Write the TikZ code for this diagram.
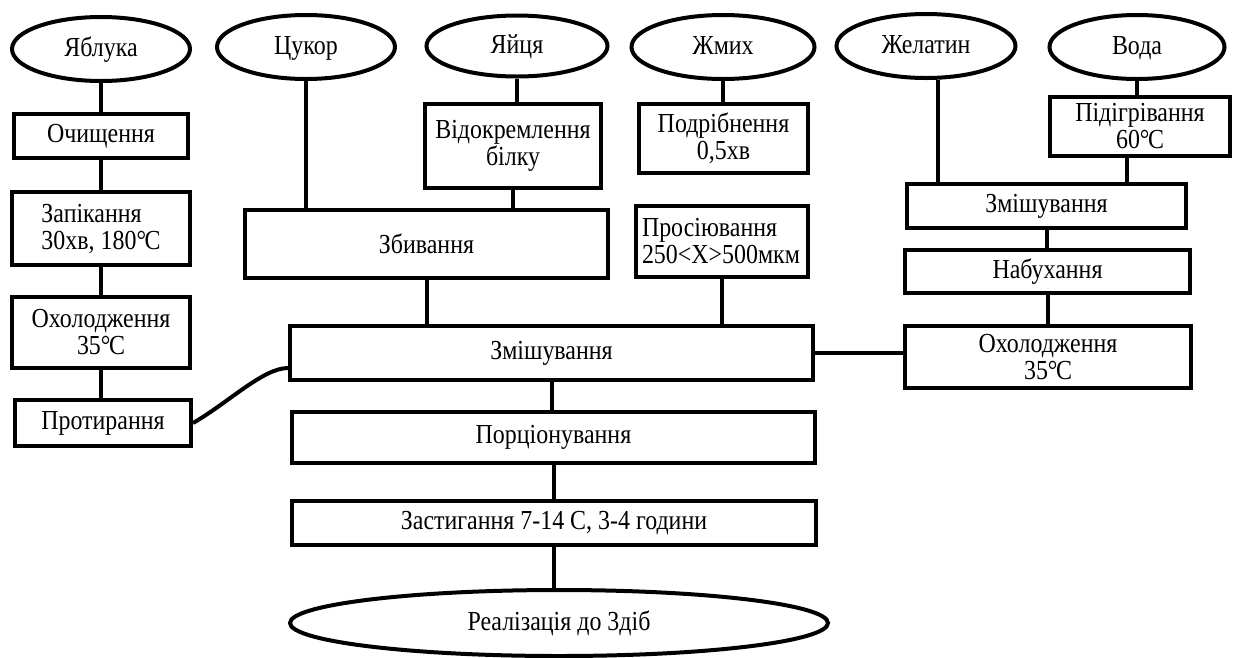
\documentclass[tikz,border=0pt]{standalone}
\usepackage{fontspec}
\setmainfont{Liberation Serif}[FakeStretch=0.87]
\usetikzlibrary{shapes.geometric}
\newcommand{\degC}{°\kern-1.5pt C}

\tikzset{
	ingr/.style={draw, ellipse, line width=4pt, inner sep=0pt, minimum width=178pt, minimum height=64pt, text height=18pt, text depth=4pt},
	proc/.style={draw, rectangle, line width=4pt, inner sep=0pt, align=center},
	link/.style={line width=4pt},
}

\begin{document}
\begin{tikzpicture}[x=1pt, y=-1pt, font=\fontsize{27.5}{27}\selectfont]
				\useasboundingbox (0,0) rectangle (1234,657);
				% ingredients
				\node[ingr] (yabluka) at (101,49){Яблука};
				\node[ingr] (tsukor) at (306,47){Цукор};
				\node[ingr, minimum width=181pt, minimum height=61pt] (yaitsia) at (517,46){Яйця};
				\node[ingr, minimum width=183pt] (zhmykh) at (723,47){Жмих};
				\node[ingr, minimum width=179pt] (zhelatyn) at (926,46){Желатин};
				\node[ingr, minimum width=175pt] (voda) at (1137,47){Вода};
				% apples
				\node[proc, minimum width=174pt, minimum height=44pt] (ochyshch) at (101,136){Очищення};
				\node[proc, minimum width=178pt, minimum height=73pt, align=left] (zapik) at (101,228.5){Запікання\\30хв, 180\degC};
				\node[proc, minimum width=178pt, minimum height=71pt] (okhol1) at (101,332.5){Охолодження\\35\degC};
				\node[proc, minimum width=176pt, minimum height=46pt] (protyr) at (103,423){Протирання};
				% middle
				\node[proc, minimum width=176pt, minimum height=84pt] (vidokr) at (513,146){Відокремлення\\білку};
				\node[proc, minimum width=363pt, minimum height=68pt] (zbyv) at (426.5,244){Збивання};
				\node[proc, minimum width=169pt, minimum height=69pt] (podrib) at (723.5,138.5){Подрібнення\\0,5хв};
				\node[proc, minimum width=172pt, minimum height=71pt, align=left, text width=160pt] (prosiyuv) at (722,241.5){Просіювання\\250<X>500мкм};
				\node[proc, minimum width=523pt, minimum height=54pt] (zmish) at (551.5,353){Змішування};
				\node[proc, minimum width=523pt, minimum height=51pt] (portsi) at (553.5,437.5){Порціонування};
				\node[proc, minimum width=524pt, minimum height=44pt] (zastyg) at (554,523){Застигання 7-14 С, 3-4 години};
				\node[ingr, minimum width=538pt, minimum height=66pt] (realiz) at (559,623){Реалізація до 3діб};
				% gelatine
				\node[proc, minimum width=180pt, minimum height=59pt] (pidigr) at (1140,126.5){Підігрівання\\60\degC};
				\node[proc, minimum width=279pt, minimum height=44pt] (zmish2) at (1046.5,206){Змішування};
				\node[proc, minimum width=285pt, minimum height=43pt] (nabukh) at (1047.5,271.5){Набухання};
				\node[proc, minimum width=286pt, minimum height=62pt] (okhol2) at (1048,357){Охолодження\\35\degC};
				% links
				\draw[link] (yabluka.south) -- (yabluka.south |- ochyshch.north);
				\draw[link] (ochyshch.south) -- (ochyshch.south |- zapik.north);
				\draw[link] (zapik.south) -- (zapik.south |- okhol1.north);
				\draw[link] (okhol1.south) -- (okhol1.south |- protyr.north);
				\draw[link] (protyr.east) .. controls +(35pt,20pt) and +(-25pt,0pt) .. ([yshift=-15pt]zmish.west);
				\draw[link] (tsukor.south) -- (tsukor.south |- zbyv.north);
				\draw[link] (yaitsia.south) -- (yaitsia.south |- vidokr.north);
				\draw[link] (vidokr.south) -- (vidokr.south |- zbyv.north);
				\draw[link] (zhmykh.south) -- (zhmykh.south |- podrib.north);
				\draw[link] (zbyv.south) -- (zbyv.south |- zmish.north);
				\draw[link] (prosiyuv.south) -- (prosiyuv.south |- zmish.north);
				\draw[link] (zmish.south) -- (zmish.south |- portsi.north);
				\draw[link] (portsi.south) -- (portsi.south |- zastyg.north);
				\draw[link] (zastyg.south) -- (zastyg.south |- realiz.north);
				\draw[link] ([xshift=12pt]zhelatyn.south) -- ([xshift=12pt]zhelatyn.south |- zmish2.north);
				\draw[link] (voda.south) -- (voda.south |- pidigr.north);
				\draw[link] ([xshift=-13pt]pidigr.south) -- ([xshift=-13pt]pidigr.south |- zmish2.north);
				\draw[link] (zmish2.south) -- (zmish2.south |- nabukh.north);
				\draw[link] (nabukh.south) -- (nabukh.south |- okhol2.north);
				\draw[link] (zmish.east) -- (okhol2.west |- zmish.east);
			\end{tikzpicture}
\end{document}
